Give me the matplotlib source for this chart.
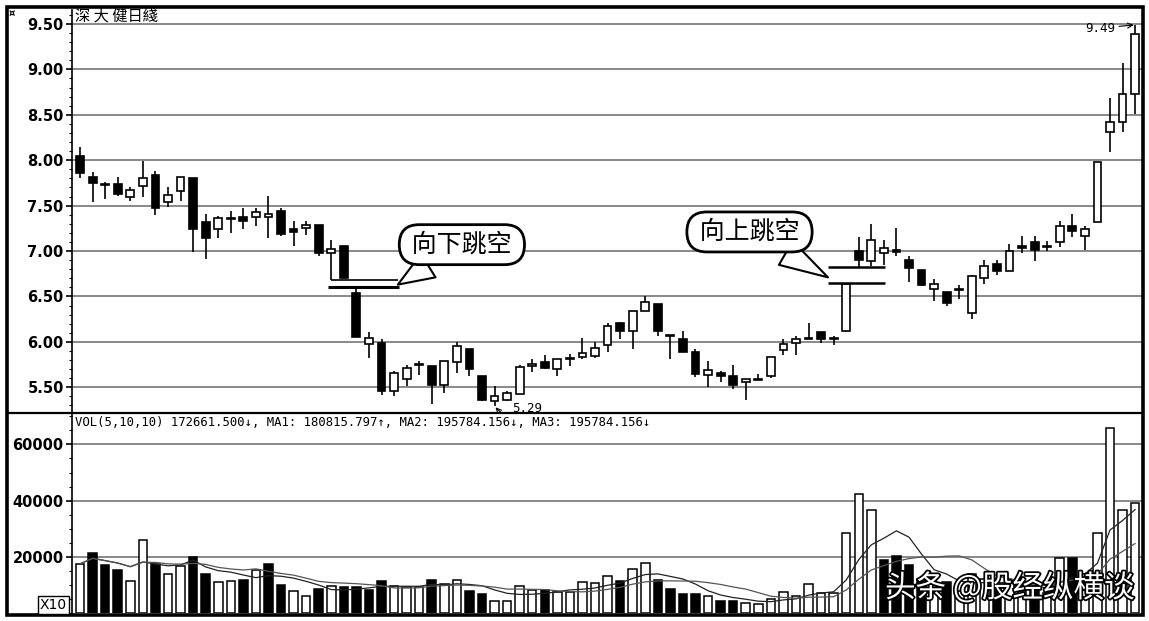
import numpy as np
import pandas as pd
import matplotlib
matplotlib.use("Agg")
import matplotlib.pyplot as plt
import matplotlib.patheffects as pe
from matplotlib.ticker import MultipleLocator
from matplotlib.patches import Rectangle
from matplotlib.lines import Line2D

plt.rcParams['font.family'] = ['DejaVu Sans', 'Noto Sans CJK SC']
cjk = ['Noto Sans CJK SC', 'DejaVu Sans']

# daily candles (open, high, low, close)
opens = [8.05, 7.81, 7.745, 7.74, 7.60, 7.72, 7.84, 7.54, 7.66, 7.80,
         7.32, 7.245, 7.36, 7.37, 7.375, 7.375, 7.44, 7.24, 7.25, 7.29,
         6.98, 7.055, 6.54, 5.98, 5.99, 5.46, 5.59, 5.75, 5.73, 5.52,
         5.78, 5.92, 5.62, 5.35, 5.36, 5.43, 5.73, 5.78, 5.70, 5.82,
         5.835, 5.845, 5.96, 6.21, 6.115, 6.335, 6.415, 6.065, 6.03, 5.89,
         5.63, 5.655, 5.625, 5.56, 5.59, 5.625, 5.91, 5.99, 6.035, 6.11,
         6.04, 6.12, 7.00, 6.89, 6.98, 7.00, 6.90, 6.79, 6.58, 6.55,
         6.575, 6.32, 6.70, 6.86, 6.785, 7.05, 7.10, 7.05, 7.10, 7.28,
         7.16, 7.32, 8.31, 8.42, 8.73]
highs = [8.15, 7.87, 7.76, 7.82, 7.70, 7.99, 7.88, 7.70, 7.82, 7.80,
         7.41, 7.39, 7.44, 7.47, 7.475, 7.61, 7.475, 7.33, 7.33, 7.29,
         7.12, 7.06, 6.60, 6.11, 6.03, 5.68, 5.75, 5.79, 5.73, 5.79,
         6.00, 5.92, 5.62, 5.51, 5.46, 5.74, 5.81, 5.855, 5.81, 5.865,
         6.04, 6.00, 6.21, 6.22, 6.34, 6.50, 6.415, 6.07, 6.12, 5.92,
         5.79, 5.68, 5.74, 5.59, 5.65, 5.835, 6.03, 6.065, 6.21, 6.11,
         6.065, 6.65, 7.155, 7.30, 7.12, 7.255, 6.95, 6.79, 6.69, 6.55,
         6.63, 6.74, 6.90, 6.90, 7.08, 7.16, 7.16, 7.105, 7.33, 7.41,
         7.27, 7.98, 8.69, 9.07, 9.49]
lows = [7.80, 7.54, 7.57, 7.61, 7.55, 7.60, 7.40, 7.49, 7.55, 6.99,
        6.91, 7.14, 7.20, 7.24, 7.28, 7.145, 7.16, 7.05, 7.18, 6.945,
        6.68, 6.69, 6.05, 5.825, 5.42, 5.40, 5.51, 5.64, 5.31, 5.44,
        5.66, 5.62, 5.35, 5.29, 5.35, 5.43, 5.67, 5.70, 5.62, 5.73,
        5.81, 5.82, 5.89, 6.03, 5.92, 6.335, 6.06, 5.81, 5.89, 5.61,
        5.50, 5.56, 5.48, 5.36, 5.59, 5.60, 5.85, 5.86, 6.035, 5.99,
        5.96, 6.11, 6.82, 6.84, 6.85, 6.95, 6.66, 6.62, 6.45, 6.40,
        6.47, 6.25, 6.64, 6.74, 6.785, 6.98, 6.89, 7.00, 7.04, 7.15,
        7.01, 7.32, 8.09, 8.31, 8.51]
closes = [7.86, 7.75, 7.735, 7.63, 7.67, 7.80, 7.475, 7.62, 7.81, 7.245,
          7.14, 7.36, 7.36, 7.335, 7.43, 7.41, 7.19, 7.21, 7.29, 6.98,
          7.02, 6.70, 6.055, 6.045, 5.46, 5.655, 5.71, 5.75, 5.52, 5.79,
          5.95, 5.70, 5.355, 5.40, 5.44, 5.72, 5.76, 5.71, 5.81, 5.82,
          5.88, 5.93, 6.17, 6.12, 6.34, 6.44, 6.115, 6.065, 5.89, 5.65,
          5.69, 5.62, 5.52, 5.59, 5.59, 5.835, 5.98, 6.035, 6.035, 6.035,
          6.04, 6.64, 6.90, 7.12, 7.03, 7.00, 6.815, 6.63, 6.64, 6.43,
          6.575, 6.72, 6.84, 6.785, 7.00, 7.035, 7.01, 7.05, 7.28, 7.22,
          7.24, 7.98, 8.42, 8.73, 9.39]

# volume (axis units, x10) and bar colour: w = up day, b = down day
vols = [17500, 21400, 17000, 15200, 11300, 26000, 17600, 13900, 16700, 19900,
        13900, 10900, 11300, 11600, 15200, 17500, 9800, 7900, 5900, 8600,
        9500, 9100, 9200, 8300, 11300, 9700, 9100, 9100, 11700, 10400,
        11700, 7900, 6800, 4300, 4300, 9700, 8300, 8300, 7300, 7500,
        10900, 10500, 13100, 11300, 15700, 17800, 11700, 8600, 6700, 6700,
        5900, 4100, 4100, 3700, 3200, 5000, 7300, 5900, 10300, 7100,
        7100, 28300, 42200, 36700, 18800, 20200, 17000, 12000, 9000, 11000,
        8000, 14000, 12000, 9000, 11000, 8000, 9000, 7000, 19600, 19600,
        14000, 28300, 66000, 36700, 39000]
vol_dir = list("wbbbwwbwwb" "bwwbwbbwwb" "wbbbbwwwbw"
               "wbbwwwwbww" "wwwbwwbbbb" "wbbwwwwwww"
               "wwwwbbbbwb" "wwwbwwbwwb" "wwwww")

header = "深 大 健日綫"
vol_caption = "VOL(5,10,10) 172661.500↓, MA1: 180815.797↑, MA2: 195784.156↓, MA3: 195784.156↓"
watermark = "头条 @股经纵横谈"

o = np.array(opens); h = np.array(highs); l = np.array(lows); c = np.array(closes)
n = len(o)
x = np.arange(n)

fig = plt.figure(figsize=(11.49, 6.21), dpi=100)
ax = fig.add_axes([0.0627, 0.3349, 0.9312, 0.6490])
axv = fig.add_axes([0.0627, 0.0129, 0.9312, 0.3220], sharex=ax)

# candles
body_lo = np.minimum(o, c)
body_h = np.abs(c - o)
doji = body_h < 0.01
up = (c > o) & ~doji
ax.vlines(x, l, h, color='black', lw=1.2, zorder=2)
ax.bar(x, np.where(doji, 0.012, body_h), bottom=np.where(doji, c - 0.006, body_lo),
       width=0.62, color=np.where(up, 'white', 'black'), edgecolor='black', lw=1.2, zorder=3)

# gap marks
ax.hlines(l[20], 20, 25.3, color='black', lw=1.2, zorder=4)
ax.hlines(h[22], 19.7, 25.4, color='black', lw=2.2, zorder=4)
ax.hlines(l[62], 59.55, 64.1, color='black', lw=1.8, zorder=4)
ax.hlines(h[61], 59.55, 64.1, color='black', lw=1.8, zorder=4)

bubble = dict(boxstyle='round,pad=0.28,rounding_size=0.8', fc='white', ec='black', lw=2)
tail = dict(arrowstyle='wedge,tail_width=1.1', fc='white', ec='black', lw=1.5,
            shrinkA=0, shrinkB=0)
ax.annotate(' 向下跳空 ', xy=(25.3, 6.63), xytext=(30.4, 7.07), ha='center', va='center',
            fontsize=18, family=cjk, bbox=bubble, zorder=6, arrowprops=tail)
ax.annotate(' 向上跳空 ', xy=(59.55, 6.71), xytext=(53.3, 7.21), ha='center', va='center',
            fontsize=18, family=cjk, bbox=bubble, zorder=6, arrowprops=tail)

ax.annotate('5.29', xy=(33, 5.29), xytext=(34.4, 5.265), fontsize=9, family='DejaVu Sans Mono',
            va='center', ha='left',
            arrowprops=dict(arrowstyle='->', connectionstyle='arc3,rad=-0.5', lw=0.8, shrinkA=1, shrinkB=1))
ax.annotate('9.49', xy=(84, 9.49), xytext=(80.0, 9.455), fontsize=9, family='DejaVu Sans Mono',
            va='center', ha='left', arrowprops=dict(arrowstyle='->', lw=0.8, shrinkA=1, shrinkB=1))

ax.set_xlim(-0.64, 84.55)
ax.set_ylim(5.216, 9.654)
ax.set_yticks([5.5, 6.0, 6.5, 7.0, 7.5, 8.0, 8.5, 9.0, 9.5])
ax.set_yticklabels(['%.2f' % v for v in ax.get_yticks()])
ax.yaxis.set_minor_locator(MultipleLocator(0.1))
ax.yaxis.grid(True, color='#808080', lw=1.3)
ax.set_axisbelow(True)

# volume
ma5 = pd.Series(vols).rolling(5, min_periods=1).mean()
ma10 = pd.Series(vols).rolling(10, min_periods=1).mean()
axv.bar(x, vols, width=0.68, color=['white' if d == 'w' else 'black' for d in vol_dir],
        edgecolor='black', lw=1.1, zorder=3)
axv.plot(x, ma5, color='#222222', lw=0.9, zorder=4)
axv.plot(x, ma10, color='#555555', lw=0.9, zorder=4)
axv.set_ylim(0, 71170)
axv.set_yticks([20000, 40000, 60000])
axv.yaxis.set_minor_locator(MultipleLocator(5000))
axv.yaxis.grid(True, color='#808080', lw=1.3)
axv.set_axisbelow(True)
axv.text(0.003, 0.955, vol_caption, transform=axv.transAxes, fontsize=8.8,
         family='DejaVu Sans Mono', va='center', ha='left')

for a in (ax, axv):
    for s in ('top', 'right', 'bottom'):
        a.spines[s].set_visible(False)
    a.spines['left'].set_linewidth(1.2)
    a.tick_params(axis='y', which='major', direction='out', length=4, width=1.2, pad=2,
                  labelsize=10.5)
    a.tick_params(axis='y', which='minor', direction='out', length=2, width=0.8)
    a.tick_params(axis='x', which='both', bottom=False, labelbottom=False)
    for t in a.get_yticklabels():
        t.set_fontweight('bold')

# outer frame and panel separator
fig.add_artist(Rectangle((7 / 1149, 6 / 621), 1136 / 1149, 608 / 621, transform=fig.transFigure,
                         fill=False, ec='black', lw=2.6))
fig.add_artist(Line2D([7 / 1149, 1143 / 1149], [1 - 413 / 621, 1 - 413 / 621],
                      transform=fig.transFigure, color='black', lw=1.6))

fig.text(75 / 1149, 1 - 16 / 621, header, fontsize=11, family=cjk, va='center', ha='left')
fig.text(9 / 1149, 1 - 13 / 621, '¤', fontsize=7, weight='bold', va='center')
fig.text(40 / 1149, 1 - 605 / 621, 'X10', fontsize=10, va='center', ha='left',
         bbox=dict(boxstyle='square,pad=0.12', fc='white', ec='black', lw=1))
fig.text(885 / 1149, 1 - 588 / 621, watermark, fontsize=22, color='white', family=cjk,
         va='center', ha='left', path_effects=[pe.withStroke(linewidth=2.5, foreground='black')])

fig.savefig('out.png', dpi=100)
